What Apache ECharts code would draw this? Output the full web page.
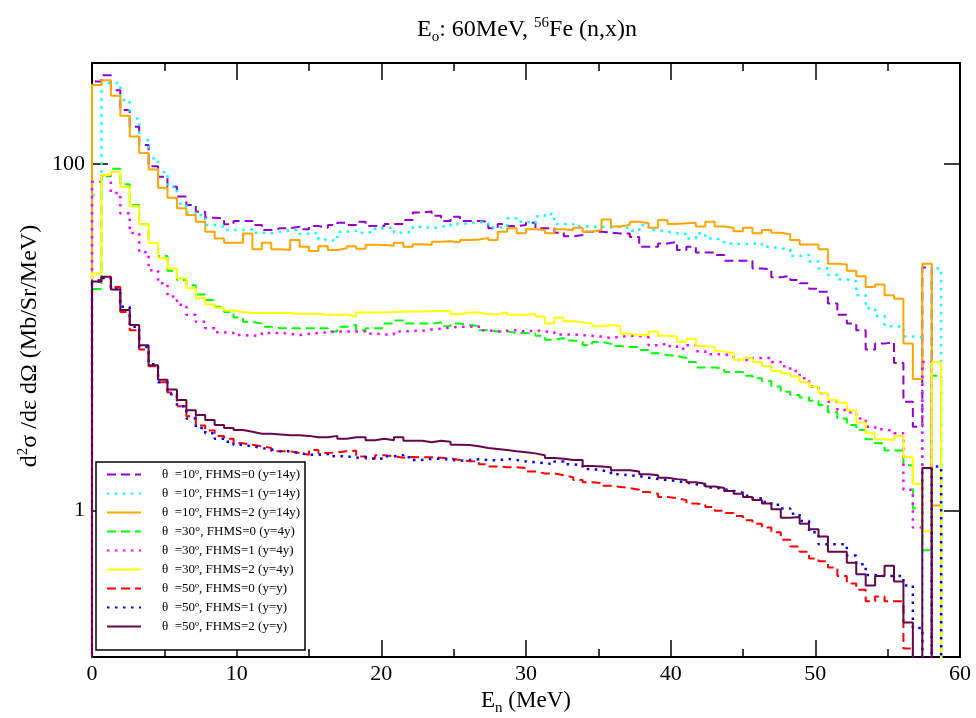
<!DOCTYPE html>
<html><head><meta charset="utf-8">
<script src="https://cdn.jsdelivr.net/npm/echarts@6/dist/echarts.min.js"></script>
<style>html,body{margin:0;padding:0;background:#fff}#c{width:976px;height:718px}</style>
</head><body><div id="c"></div>
<script>
// ---- data ----
const binWidth = 0.6522;          // MeV, histogram bin width
const TAIL = 0.001;               // value after the last bin (falls off the axis)
const xTickValues = [0, 10, 20, 30, 40, 50, 60];
const yTickValues = [1, 100];

const seriesNames = [
  'θ  =10º, FHMS=0 (y=14y)', 'θ  =10º, FHMS=1 (y=14y)', 'θ  =10º, FHMS=2 (y=14y)',
  'θ  =30°, FHMS=0 (y=4y)',  'θ  =30º, FHMS=1 (y=4y)',  'θ  =30º, FHMS=2 (y=4y)',
  'θ  =50º, FHMS=0 (y=y)',   'θ  =50º, FHMS=1 (y=y)',   'θ  =50º, FHMS=2 (y=y)'
];
const seriesColors = ['#9400d3', '#00ffff', '#ffa500', '#00ff00', '#ff00ff', '#ffff00', '#ff0000', '#0000ff', '#670748'];
const seriesDash = ['dashed', 'dotted', 'solid', 'dashed', 'dotted', 'solid', 'dashed', 'dotted', 'solid'];

// value at E = 0
const startValues = [0.001, 66, 0.001, 0.001, 0.001, 0.001, 0.001, 4.6, 0.001];

const th10_fhms0 = [300,326,267,205,164,129,97,84.5,74,65,
  58,53,49,48.6,44.9,47,47,44.5,41.6,42.6,
  42.6,43.5,42,43.9,42.9,44.5,45.8,44.5,46.5,43.9,
  43.9,45.1,45.1,47.5,52.5,53.2,50.3,47,49.7,46.9,
  46.9,46.5,42.6,45.1,43.9,44.5,45.8,42.6,42.6,40.1,
  38.3,38.9,40.7,40.7,40.2,39.8,39.8,38,33.3,33.3,
  34.8,35.6,31.9,33.3,30.9,30.9,29.9,27.7,27.7,27.7,
  25,24.7,22.2,22.6,21.4,20.5,19.1,18.3,15.7,13.5,
  12,11,8.5,9.2,9.4,7.1,4.25,3.05,25.3,0.001];
const th10_fhms1 = [66,294,293,234,183,137,108,90,74,59,
  52.6,50.8,44.5,43.5,41.6,41.6,42,40.1,39.9,40.7,
  41.6,41.6,39.6,40.1,36.7,36,40.7,41.2,40.1,40.7,
  42.6,43.1,40.1,40.7,43.5,42.6,43.5,43.9,45.1,45.5,
  46.5,45.5,43.1,43.1,48.6,46.5,45.5,50,51.5,45.1,
  45.1,43.9,43.5,43.5,43.1,43.5,42.6,41.2,44.5,41.6,
  40.7,39.9,39.5,37.2,39.9,37.2,36.4,34.8,34.5,34.8,
  34.8,33.3,32.6,32.2,29.5,29.9,27.4,25,22.9,21.6,
  21.1,17.5,14.7,13.3,11.6,11.5,10.1,10,0.001,25];
const th10_fhms2 = [286,305,248,190,144,116,93,73,64,55.5,
  50.8,46.5,40.7,37.2,35.1,35.1,39.8,32.2,35.1,32.2,
  31.9,36.4,33.3,31.5,33.6,31.9,32.7,33.6,32.5,34.2,
  34.1,33.8,35.2,33.3,34.5,34.1,35.6,35.9,35.4,36.4,
  36.7,37.5,36.4,40.7,42.6,39.9,42.1,41.6,39.9,42.1,
  41.6,42.9,40.7,41.6,47.9,43.6,44.5,46.5,45.5,42.9,
  47.5,45.1,45.5,45.9,43.6,46.4,43.6,42.9,41,42.9,
  39.9,41.6,40.2,39.3,36.4,34.3,34.3,32.2,26.6,26.3,
  24.2,22.5,19.5,20.2,17.5,16.7,9.2,5.75,26.6,1.07];
const th30_fhms0 = [19,85,94,76.5,58,45,35,29.5,24.2,21.4,
  20,17.7,16.4,15,14,13,12.3,12,11.5,11.3,
  11.3,11.3,11.3,11.3,11.3,10.8,11.5,11.8,11,11.3,
  11.3,12,12.5,12,12,12,12.2,11.6,12,11.8,
  11.6,11,10.8,10.8,10.6,10.6,10.5,10.2,9.7,9.9,
  9.6,9.4,9,9.4,9.2,8.9,8.8,8.8,8.45,8.1,
  7.9,7.8,7.6,7.2,6.7,6.7,6.6,6.3,6.3,6,
  5.8,5.6,5.2,4.85,4.65,4.5,4.3,4.07,3.7,3.4,
  3.12,2.92,2.58,2.45,2.22,2.22,1.83,1.03,0.59,6];
const th30_fhms1 = [79,86,68,52,40,31,24.4,20.5,17.2,15.4,
  13.5,12.3,11.3,10.7,10.6,10.3,10.2,10.3,10.6,10.6,
  10.5,10.3,10.5,10.6,10.7,10.8,10.8,10.8,10.8,10.5,
  10.4,10.4,10.8,10.9,10.9,11.1,11.2,11.4,11.5,11.5,
  11.6,11,10.8,10.9,11,10.8,11,10.8,10.7,10.4,
  10.4,10.3,10.2,10.1,9.9,10.1,10.2,10.2,10,9,
  9.2,8.9,8.6,9,8.3,8,8,7.8,7.4,7.4,
  7.6,7.6,7.2,6.8,6.4,5.8,5.2,4.75,4.25,3.81,
  3.7,3.4,3.05,2.95,2.88,2.8,1.32,0.8,7.2,0.001];
const th30_fhms2 = [23.4,86.4,90,74,57,45,35,28.6,25,21.9,
  19.2,16.8,15.5,14.8,14.3,14,13.8,13.8,13.8,13.8,
  13.8,13.7,13.7,13.7,13.5,13.5,13.5,13.2,13.9,13.9,
  13.9,14,14.1,14.1,14.1,14.2,14.2,14.2,13.6,13.9,
  13.9,13.6,13.6,13.9,13.5,13.5,13.7,13.2,12,13,
  12.4,12.2,12,11.6,11.8,11.6,10.5,10.3,10.3,10.8,
  10.2,10.1,9.4,9.8,8.9,8.8,8.3,8.1,7.4,7.6,
  7.2,6.8,6.4,6.2,5.95,5.5,5.2,4.75,4.35,4.2,
  3.78,3.23,2.8,2.58,2.55,2.7,2.03,1.43,0.76,7.2];
const th50_fhms0 = [21.4,22,19.5,14,11,8.5,6.8,5.5,4.8,4.0,
  3.5,3.1,2.9,2.7,2.6,2.45,2.4,2.35,2.3,2.2,
  2.2,2.15,2.1,2.24,2.15,2.17,2.2,2.22,2.05,1.99,
  2.09,2.06,2.02,2.04,2.03,2.03,2.02,2.0,1.96,1.93,
  1.93,1.85,1.8,1.78,1.78,1.76,1.68,1.64,1.64,1.6,
  1.56,1.5,1.46,1.44,1.39,1.37,1.35,1.32,1.28,1.25,
  1.2,1.18,1.15,1.1,1.08,1.05,1.0,0.97,0.93,0.88,
  0.84,0.8,0.75,0.68,0.62,0.58,0.53,0.51,0.47,0.42,
  0.38,0.35,0.3,0.32,0.3,0.3,0.16,0.001,0.001,0.001];
const th50_fhms1 = [21,22,19,15,11.5,8.8,7,5.5,4.7,4.0,
  3.4,3.0,2.8,2.6,2.5,2.4,2.35,2.3,2.25,2.2,
  2.2,2.15,2.1,2.1,2.12,2.06,2.06,2.02,2.04,1.99,
  2.0,2.06,2.09,2.03,1.96,1.99,1.99,1.97,1.94,1.96,
  1.98,1.96,1.95,1.99,1.96,1.92,1.9,1.88,1.85,1.92,
  1.85,1.83,1.74,1.71,1.67,1.62,1.6,1.58,1.55,1.52,
  1.5,1.48,1.45,1.42,1.4,1.36,1.33,1.3,1.27,1.22,
  1.18,1.12,1.08,1.03,0.96,0.87,0.75,0.64,0.64,0.64,
  0.55,0.49,0.425,0.42,0.42,0.42,0.37,0.21,0.001,1.8];
const th50_fhms2 = [21,22.4,18.9,14.4,11.8,9.0,6.9,5.7,5.0,4.35,
  3.8,3.56,3.33,3.12,3.0,2.92,2.85,2.78,2.78,2.75,
  2.72,2.72,2.7,2.65,2.65,2.7,2.6,2.65,2.65,2.55,
  2.6,2.55,2.65,2.53,2.53,2.48,2.53,2.5,2.4,2.39,
  2.35,2.3,2.27,2.24,2.2,2.17,2.14,2.09,2.01,1.99,
  1.96,1.96,1.81,1.8,1.78,1.71,1.71,1.68,1.62,1.6,
  1.55,1.52,1.5,1.46,1.43,1.38,1.35,1.3,1.25,1.2,
  1.15,1.1,1.02,0.91,0.92,0.84,0.78,0.71,0.58,0.58,
  0.5,0.43,0.37,0.42,0.48,0.39,0.226,0.001,1.76,0.001];

const seriesValues = [th10_fhms0, th10_fhms1, th10_fhms2, th30_fhms0, th30_fhms1, th30_fhms2, th50_fhms0, th50_fhms1, th50_fhms2];

// ---- chart ----
const FONT = 'Liberation Serif';
function stairPoints(start, vals) {
  const d = [[0, start]];
  vals.forEach((v, i) => d.push([(i + 1) * binWidth, v]));
  d.push([(vals.length + 1) * binWidth, TAIL]);
  return d;
}
const dashMap = { dashed: [9, 5], dotted: [2.5, 5.5], solid: 'solid' };
const widthMap = { dashed: 2, dotted: 2.5, solid: 2 };

const series = seriesNames.map((name, i) => ({
  name, type: 'line', step: 'start', xAxisIndex: 0, yAxisIndex: 0,
  data: stairPoints(startValues[i], seriesValues[i]),
  showSymbol: false, symbol: 'none', clip: true, animation: false,
  lineStyle: { color: seriesColors[i], width: widthMap[seriesDash[i]], type: dashMap[seriesDash[i]], cap: 'butt' },
  itemStyle: { color: seriesColors[i] },
  emphasis: { disabled: true }
}));

const axisCommonX = {
  type: 'value', min: 0, max: 60, interval: 10,
  axisLine: { show: true, onZero: false, lineStyle: { color: '#000', width: 2 } },
  axisTick: { show: true, inside: true, length: 17, lineStyle: { color: '#000', width: 1.5 } },
  minorTick: { show: true, splitNumber: 2, length: 8, lineStyle: { color: '#000', width: 1.5 } },
  splitLine: { show: false }, minorSplitLine: { show: false }
};
const axisCommonY = {
  type: 'log', logBase: 10, min: 0.143, max: 383,
  axisLine: { show: true, onZero: false, lineStyle: { color: '#000', width: 2 } },
  axisTick: { show: true, inside: true, length: 16, customValues: yTickValues, lineStyle: { color: '#000', width: 1.5 } },
  minorTick: { show: false }, splitLine: { show: false }, minorSplitLine: { show: false }
};

const chart = echarts.init(document.getElementById('c'));
chart.setOption({
  animation: false,
  backgroundColor: '#fff',
  grid: { left: 92, right: 16, top: 63, bottom: 61, containLabel: false },
  xAxis: [
    Object.assign({}, axisCommonX, { position: 'bottom',
      axisLabel: { show: true, customValues: xTickValues, fontFamily: FONT, fontSize: 22, color: '#000', margin: 6 } }),
    Object.assign({}, axisCommonX, { position: 'top', axisLabel: { show: false } })
  ],
  yAxis: [
    Object.assign({}, axisCommonY, { position: 'left',
      axisLabel: { show: true, customValues: yTickValues, fontFamily: FONT, fontSize: 22, color: '#000', margin: 7,
        formatter: v => String(v) } }),
    Object.assign({}, axisCommonY, { position: 'right', axisLabel: { show: false } })
  ],
  legend: {
    orient: 'vertical', left: 106, top: 468, padding: 0,
    itemWidth: 34, itemHeight: 14, itemGap: 6, selectedMode: false,
    itemStyle: { opacity: 0 },
    textStyle: { fontFamily: FONT, fontSize: 13, color: '#000', padding: [0, 0, 0, 16] },
    data: seriesNames, z: 10
  },
  graphic: [
    { type: 'rect', z: 5, shape: { x: 96, y: 462, width: 209, height: 188 },
      style: { fill: '#fff', stroke: '#000', lineWidth: 1.5 } },
    { type: 'text', x: 527, y: 30, z: 5,
      style: { text: '{m|E}{sub|o}{m|: 60MeV, }{sup|56}{m|Fe (n,x)n}', align: 'center', verticalAlign: 'middle',
        rich: { m: { fontFamily: FONT, fontSize: 24, fill: '#000' },
                sub: { fontFamily: FONT, fontSize: 15, fill: '#000', padding: [14, 0, 0, 0] },
                sup: { fontFamily: FONT, fontSize: 15, fill: '#000', padding: [0, 0, 13, 0] } } } },
    { type: 'text', x: 526, y: 701, z: 5,
      style: { text: '{m|E}{sub|n}{m| (MeV)}', align: 'center', verticalAlign: 'middle',
        rich: { m: { fontFamily: FONT, fontSize: 23, fill: '#000' },
                sub: { fontFamily: FONT, fontSize: 15, fill: '#000', padding: [14, 0, 0, 0] } } } },
    { type: 'text', x: 30, y: 346, rotation: Math.PI / 2, z: 5,
      style: { text: '{m|d}{sup|2}{m|σ /dε dΩ (Mb/Sr/MeV)}', align: 'center', verticalAlign: 'middle',
        rich: { m: { fontFamily: FONT, fontSize: 24, fill: '#000' },
                sup: { fontFamily: FONT, fontSize: 15, fill: '#000', padding: [0, 0, 13, 0] } } } }
  ],
  series
});
</script>
</body></html>
